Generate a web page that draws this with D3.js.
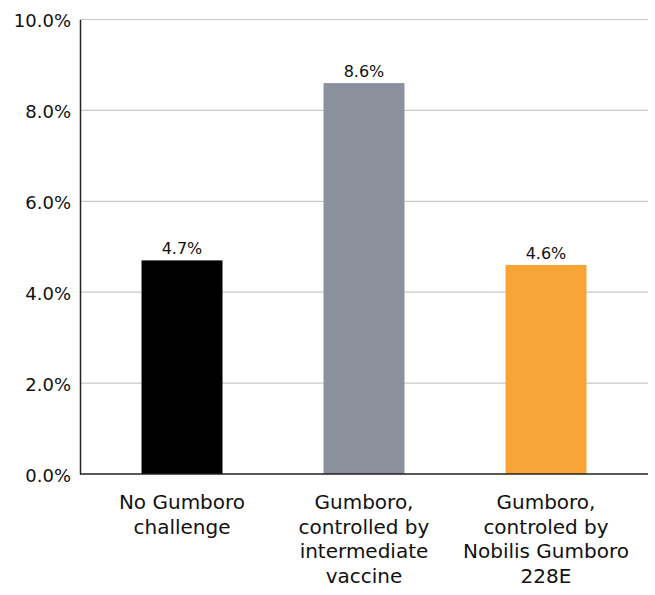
<!DOCTYPE html>
<html><head><meta charset="utf-8">
<script src="https://cdn.jsdelivr.net/npm/d3@7"></script>
<style>body{margin:0;background:#fff;} svg{display:block;}</style>
</head><body>
<svg id="c" width="655" height="595"></svg>
<script>
const categories = [
  ["No Gumboro", "challenge"],
  ["Gumboro,", "controlled by", "intermediate", "vaccine"],
  ["Gumboro,", "controled by", "Nobilis Gumboro", "228E"]
];
const values = [4.7, 8.6, 4.6];
const colors = ["#000000", "#8a909c", "#f9a436"];
const yTicks = [0, 2, 4, 6, 8, 10];

(function () {
const svg = d3.select("#c");
const mLeft = 80, mRight = 648, mTop = 19.5, mBottom = 474;
const font = "DejaVu Sans, sans-serif";

const x = d3.scaleBand().domain(d3.range(values.length)).range([mLeft, mRight])
  .paddingInner(0.555).paddingOuter(0.338);
const y = d3.scaleLinear().domain([0, 10]).range([mBottom, mTop]);

// gridlines
svg.append("g").selectAll("line").data(yTicks.filter(t => t > 0)).join("line")
  .attr("x1", mLeft).attr("x2", mRight)
  .attr("y1", d => y(d)).attr("y2", d => y(d))
  .attr("stroke", "#c8c8c8").attr("stroke-width", 1.2);

// y axis
const yAxis = svg.append("g").attr("transform", `translate(${mLeft},0)`)
  .call(d3.axisLeft(y).tickValues(yTicks).tickSize(0).tickPadding(9).tickFormat(d => d.toFixed(1) + "%"));
yAxis.select(".domain").attr("stroke", "#222").attr("stroke-width", 1.5);
yAxis.selectAll("text").attr("font-family", font).attr("font-size", 18).attr("fill", "#111")
  .attr("dy", "0.4em");

// bars
svg.append("g").selectAll("rect").data(values).join("rect")
  .attr("x", (d, i) => x(i)).attr("width", x.bandwidth())
  .attr("y", d => y(d)).attr("height", d => y(0) - y(d))
  .attr("fill", (d, i) => colors[i]);

// value labels
svg.append("g").selectAll("text").data(values).join("text")
  .attr("x", (d, i) => x(i) + x.bandwidth() / 2)
  .attr("y", d => y(d) - 6)
  .attr("text-anchor", "middle")
  .attr("font-family", font).attr("font-size", 16).attr("fill", "#111")
  .text(d => d.toFixed(1) + "%");

// x axis line
svg.append("line").attr("x1", mLeft).attr("x2", mRight)
  .attr("y1", mBottom).attr("y2", mBottom)
  .attr("stroke", "#222").attr("stroke-width", 1.5);

// category labels
const cat = svg.append("g").selectAll("text").data(categories).join("text")
  .attr("x", (d, i) => x(i) + x.bandwidth() / 2)
  .attr("y", 509)
  .attr("text-anchor", "middle")
  .attr("font-family", font).attr("font-size", 20).attr("fill", "#111");
cat.selectAll("tspan").data(d => d).join("tspan")
  .attr("x", function() { return this.parentNode.getAttribute("x"); })
  .attr("dy", (d, j) => j === 0 ? 0 : 24.7)
  .text(d => d);
})();
</script>
</body></html>
